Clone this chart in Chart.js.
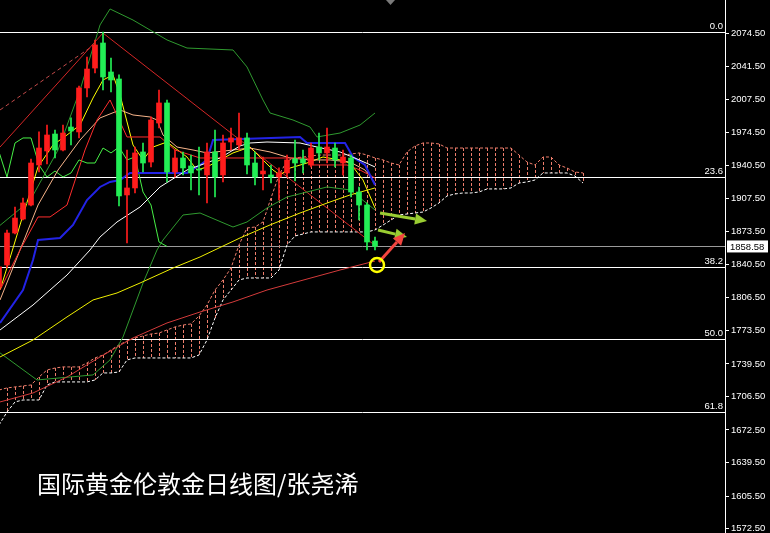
<!DOCTYPE html>
<html>
<head>
<meta charset="utf-8">
<script src="https://cdn.jsdelivr.net/npm/chart.js@4"></script>
<style>
  html, body { margin: 0; padding: 0; background: #000; }
  #wrap { width: 770px; height: 533px; position: relative; }
</style>
</head>
<body>
<div id="wrap"><canvas id="chart"></canvas></div>
<script>
/* ---------- data ---------- */

// Price axis labels (right side)
const priceTicks = [2074.5, 2041.5, 2007.5, 1974.5, 1940.5, 1907.5, 1873.5, 1840.5,
  1806.5, 1773.5, 1739.5, 1706.5, 1672.5, 1639.5, 1605.5, 1572.5];
const lastPrice = 1858.58;

// Daily candles, bar 0 is the half-hidden one on the left edge
const opens = [1817.5, 1839.8, 1872.2, 1886.4, 1900.6, 1941.2, 1955.4, 1972.6, 1956.4, 1979.7,
  1974.7, 2019.3, 2039.5, 2064.9, 2035.5, 2028.4, 1910.8, 1917.9, 1954.4, 1944.2,
  1983.8, 2004.1, 1934.1, 1948.3, 1940.2, 1937.0, 1931.1, 1954.4, 1931.1, 1964.5,
  1961.5, 1968.6, 1943.2, 1932.1, 1931.1, 1929.0, 1933.1, 1947.3, 1947.3, 1941.2,
  1959.4, 1953.4, 1958.4, 1943.2, 1948.3, 1913.8, 1900.6, 1864.1];
const highs = [1840.0, 1875.3, 1898.6, 1907.7, 1947.3, 1974.7, 1981.7, 1976.7, 1981.7, 1988.9,
  2021.3, 2050.7, 2067.9, 2076.0, 2049.7, 2032.5, 1956.4, 1959.4, 1963.5, 1989.9,
  2017.2, 2007.1, 1956.4, 1954.4, 1951.3, 1959.4, 1963.5, 1976.7, 1971.6, 1978.7,
  1993.9, 1973.6, 1954.4, 1949.3, 1941.2, 1938.2, 1951.3, 1966.5, 1956.4, 1963.5,
  1973.6, 1978.7, 1963.5, 1956.4, 1951.3, 1918.9, 1902.7, 1868.2];
const lows = [1814.0, 1836.7, 1871.2, 1885.4, 1899.6, 1934.1, 1942.2, 1948.3, 1955.4, 1961.5,
  1968.6, 2010.1, 2034.5, 2017.2, 2015.2, 1899.6, 1862.1, 1912.8, 1934.1, 1939.2,
  1978.7, 1924.0, 1929.0, 1931.1, 1915.9, 1910.8, 1902.7, 1908.7, 1923.9, 1956.4,
  1956.4, 1932.1, 1920.9, 1915.9, 1922.9, 1905.7, 1929.0, 1925.0, 1933.1, 1939.2,
  1946.3, 1943.2, 1939.2, 1931.1, 1908.7, 1885.4, 1855.0, 1855.0];
const closes = [1837.8, 1872.2, 1887.4, 1902.7, 1943.2, 1958.4, 1971.6, 1956.4, 1973.6, 1975.7,
  2019.3, 2038.5, 2062.9, 2030.4, 2027.4, 1909.8, 1917.9, 1953.4, 1943.2, 1986.8,
  2004.1, 1934.1, 1948.3, 1938.2, 1933.1, 1936.1, 1954.4, 1929.0, 1963.5, 1968.6,
  1968.6, 1941.2, 1929.0, 1935.1, 1929.0, 1933.1, 1946.3, 1943.2, 1943.2, 1958.4,
  1953.4, 1959.4, 1946.3, 1949.3, 1913.8, 1900.6, 1863.1, 1858.58];

// Ichimoku cloud, one value per bar (runs 26 bars past the last candle)
const spanA = [1713.0, 1715.1, 1716.1, 1717.1, 1718.1, 1726.2, 1733.3, 1735.3, 1736.4, 1736.4,
  1736.4, 1740.4, 1745.5, 1748.5, 1753.6, 1758.7, 1762.7, 1765.8, 1767.8, 1769.8,
  1770.8, 1773.9, 1776.9, 1778.9, 1780.0, 1788.1, 1799.2, 1814.4, 1824.6, 1836.7,
  1860.1, 1877.3, 1878.3, 1883.4, 1907.7, 1931.0, 1945.2, 1948.3, 1949.3, 1950.3,
  1951.3, 1951.3, 1951.3, 1951.3, 1952.3, 1953.4, 1951.3, 1948.3, 1946.3, 1943.2,
  1941.2, 1954.4, 1960.5, 1963.5, 1963.5, 1962.5, 1958.4, 1958.4, 1958.4, 1958.4,
  1958.4, 1958.4, 1958.4, 1958.4, 1958.4, 1951.3, 1944.2, 1941.2, 1949.3, 1949.3,
  1941.2, 1938.1, 1934.1, 1933.1];
const spanB = [1677.5, 1690.7, 1700.9, 1702.9, 1702.9, 1702.9, 1718.1, 1721.2, 1721.2, 1721.2,
  1721.2, 1721.2, 1723.2, 1730.3, 1730.3, 1731.3, 1743.5, 1745.5, 1745.5, 1745.5,
  1745.5, 1745.5, 1745.5, 1745.5, 1745.5, 1748.5, 1763.7, 1786.0, 1804.3, 1814.4,
  1824.6, 1826.6, 1826.6, 1826.6, 1826.6, 1834.7, 1860.1, 1869.2, 1871.2, 1873.3,
  1873.3, 1873.3, 1873.3, 1873.3, 1873.3, 1873.3, 1873.3, 1875.3, 1880.3, 1885.4,
  1890.5, 1891.5, 1892.5, 1893.5, 1897.6, 1902.7, 1909.8, 1911.8, 1912.8, 1912.8,
  1913.8, 1916.9, 1916.9, 1916.9, 1917.9, 1922.9, 1924.0, 1926.0, 1933.1, 1933.1,
  1933.1, 1933.1, 1930.0, 1922.9];
// Lagging span (bars 0..21)
const chikou = [1954.4, 1929.0, 1963.5, 1968.6, 1968.6, 1941.2, 1929.0, 1935.1, 1929.0, 1933.1,
  1946.3, 1943.2, 1943.2, 1958.4, 1953.4, 1959.4, 1946.3, 1949.3, 1913.8, 1900.6,
  1863.1, 1858.6];

// Indicator lines as [bar, price] samples
const maFast = [[0.13, 1814.4], [1.38, 1846.9], [2.63, 1880.4], [4.88, 1939.2], [6.75, 1961.5],
  [8.5, 1971.6], [10.13, 1981.8], [11.75, 2009.1], [13, 2027.4], [14.25, 2032.5], [15.13, 2012.2],
  [16.75, 1961.5], [18, 1946.3], [19.25, 1959.4], [21, 1964.5], [23.5, 1949.3], [24.75, 1936.1],
  [26, 1939.2], [27.63, 1946.3], [29.25, 1953.4], [31.38, 1959.4], [32.63, 1949.3], [34.25, 1936.1],
  [35.13, 1931.0], [36.38, 1938.1], [38.5, 1943.2], [40.5, 1949.3], [42.63, 1946.3], [43.88, 1943.2],
  [45.5, 1926.0], [47, 1897.6]];
const maTen = [[0.13, 1804.3], [2.63, 1855.0], [4.88, 1900.6], [7.38, 1936.1], [10.13, 1966.5],
  [12.63, 1988.9], [15.13, 1997.0], [16.75, 1991.9], [18.88, 1989.9], [19.75, 1986.8], [20.5, 1971.6],
  [22.25, 1959.4], [24.25, 1956.4], [26, 1953.4], [29.25, 1956.4], [31.38, 1958.4], [33.88, 1954.4],
  [36.38, 1948.3], [38.88, 1946.3], [41.38, 1946.3], [43.88, 1944.2], [45.75, 1936.1], [47, 1922.9]];
const maWhite = [[0.13, 1773.9], [4.25, 1799.2], [8.5, 1829.6], [11.38, 1855.0], [12.63, 1868.2],
  [14.75, 1883.4], [17.63, 1898.6], [20.13, 1918.9], [23.5, 1936.1], [27.63, 1948.3], [30.13, 1960.5],
  [31.38, 1963.5], [33.5, 1964.5], [37.63, 1963.5], [39.75, 1959.4], [42.63, 1954.4], [44.75, 1947.3],
  [47, 1939.2]];
const maSlowYellow = [[0.13, 1746.5], [4.25, 1763.7], [8.5, 1787.1], [11.75, 1804.3], [14.75, 1811.4],
  [17.63, 1821.5], [21.75, 1836.7], [25.13, 1847.9], [30.13, 1867.2], [33.88, 1880.4], [37.63, 1892.5],
  [41.38, 1903.7], [43.88, 1910.8], [47, 1917.9]];
const maSlowRed = [[0.13, 1700.9], [4.25, 1710.0], [8.5, 1726.2], [12.63, 1746.5], [16.75, 1765.8],
  [21, 1781.0], [25.13, 1792.1], [29.25, 1802.3], [33.5, 1814.4], [37.63, 1823.6], [42.63, 1834.7],
  [47, 1843.8]];
const bandUpper = [[0.13, 1880.0], [3.88, 1905.0], [7.38, 1956.4], [10.13, 2017.2], [12.63, 2083.2],
  [13.88, 2099.4], [16.75, 2088.2], [21, 2068.0], [23.5, 2059.8], [29.25, 2057.8], [31, 2040.6],
  [33, 2007.1], [33.88, 1993.9], [36.75, 1986.8], [38.88, 1979.7], [39.75, 1969.6], [42.63, 1973.6],
  [45.13, 1981.7], [47, 1993.9]];
const bandLower = [[0.13, 1750.6], [4.75, 1723.2], [11.75, 1728.3], [13.88, 1743.5], [15.5, 1766.8],
  [18, 1821.5], [19.75, 1855.0], [20.5, 1865.1], [23, 1890.5], [25.13, 1892.5], [29.25, 1878.3],
  [31, 1883.4], [33.5, 1897.6], [36, 1908.7], [41, 1918.9], [43.88, 1915.9], [47, 1895.6]];
const tenkan = [[0.13, 1781.0], [3, 1814.4], [4.25, 1844.9], [4.88, 1865.1], [7.63, 1867.2],
  [9.25, 1880.4], [11, 1905.7], [12.63, 1918.9], [13.88, 1924.0], [15.13, 1926.0], [16.38, 1933.1],
  [23.5, 1933.1], [25.13, 1941.2], [26, 1946.3], [26.75, 1966.5], [37.63, 1969.6], [38.5, 1963.5],
  [43.25, 1963.5], [44.25, 1949.3], [45.75, 1941.2], [47, 1920.9]];
const kijun = [[0.13, 1814.4], [2.63, 1855.0], [4.88, 1888.5], [6.38, 1888.5], [8.5, 1900.6],
  [10.75, 1956.4], [12.25, 1986.8], [13.88, 2007.1], [16, 1969.6], [20.13, 1969.6], [22, 1956.4],
  [25.13, 1948.3], [38.5, 1948.3], [38.88, 1941.2], [43.5, 1941.2], [45.13, 1936.1], [47, 1928.0]];

// Drawn objects
const trendSolid = [[0.13, 1959.4], [13, 2075.0], [47.25, 1858.0]];
const trendDashed = [[0.13, 1997.0], [12.25, 2064.9]];
const fibLabels = ['0.0', '23.6', '38.2', '50.0', '61.8'];
const fibPrices = [2076.0, 1928.9, 1837.9, 1764.3, 1690.7];
const greenArrows = [[[47.63, 1892.5], [53.5, 1884.4]], [[47.38, 1875.3], [51, 1868.2]]];
const redArrow = [[47.5, 1842.8], [50.75, 1872.2]];
const ringAt = [47.25, 1839.8];
const caption = '国际黄金伦敦金日线图/张尧浠';

/* ---------- colours ---------- */
const UP = '#ff1c1c';
const DOWN = '#22ee55';
const HATCH = '#f07e6c';

/* ---------- helpers ---------- */
const pts = (arr) => arr.map(([x, y]) => ({ x, y }));
const bars = opens.map((_, i) => i);
const candleColor = bars.map((i) => (closes[i] >= opens[i] ? UP : DOWN));

function line(data, color, extra = {}) {
  return Object.assign({
    type: 'line', data, borderColor: color, borderWidth: 1,
    pointRadius: 0, fill: false, tension: 0, order: 10,
  }, extra);
}

function arrow(ctx, x1, y1, x2, y2, color) {
  const a = Math.atan2(y2 - y1, x2 - x1);
  const head = 12, half = 5.5;
  const bx = x2 - head * Math.cos(a), by = y2 - head * Math.sin(a);
  ctx.strokeStyle = color; ctx.fillStyle = color; ctx.lineWidth = 3;
  ctx.beginPath(); ctx.moveTo(x1, y1); ctx.lineTo(bx, by); ctx.stroke();
  ctx.beginPath();
  ctx.moveTo(x2, y2);
  ctx.lineTo(bx - half * Math.sin(a), by + half * Math.cos(a));
  ctx.lineTo(bx + half * Math.sin(a), by - half * Math.cos(a));
  ctx.closePath(); ctx.fill();
}

/* ---------- plugins ---------- */

// Fibonacci lines, price line and the vertical cloud hatching (under the series)
const backdropPlugin = {
  id: 'backdrop',
  beforeDatasetsDraw(chart) {
    const { ctx, chartArea: ca, scales: { x, y } } = chart;
    ctx.save();
    ctx.beginPath(); ctx.rect(ca.left, ca.top, ca.width, ca.height); ctx.clip();

    ctx.lineWidth = 1;
    ctx.setLineDash([3, 2]);
    ctx.strokeStyle = HATCH;
    spanA.forEach((a, i) => {
      const px = Math.round(x.getPixelForValue(i)) + 0.5;
      ctx.beginPath();
      ctx.moveTo(px, y.getPixelForValue(a));
      ctx.lineTo(px, y.getPixelForValue(spanB[i]));
      ctx.stroke();
    });
    ctx.setLineDash([]);

    ctx.strokeStyle = '#ffffff';
    fibPrices.forEach((p) => {
      const py = Math.round(y.getPixelForValue(p)) + 0.5;
      ctx.beginPath(); ctx.moveTo(ca.left, py); ctx.lineTo(ca.right, py); ctx.stroke();
    });
    ctx.strokeStyle = '#9a9a9a';
    const lp = Math.round(y.getPixelForValue(lastPrice)) + 0.5;
    ctx.beginPath(); ctx.moveTo(ca.left, lp); ctx.lineTo(ca.right, lp); ctx.stroke();
    ctx.restore();
  },
};

// Arrows, ring, labels and caption (over the series)
const overlayPlugin = {
  id: 'overlay',
  afterDatasetsDraw(chart) {
    const { ctx, chartArea: ca, scales: { x, y } } = chart;
    const P = ([k, p]) => [x.getPixelForValue(k), y.getPixelForValue(p)];
    ctx.save();

    greenArrows.forEach(([a, b]) => arrow(ctx, ...P(a), ...P(b), '#9acd32'));
    arrow(ctx, ...P(redArrow[0]), ...P(redArrow[1]), '#f2453f');

    const [rx, ry] = P(ringAt);
    ctx.strokeStyle = '#ffff00'; ctx.lineWidth = 2.5;
    ctx.beginPath(); ctx.arc(rx, ry, 7, 0, Math.PI * 2); ctx.stroke();

    // fib level labels
    ctx.fillStyle = '#ffffff';
    ctx.font = '9.5px "Liberation Sans", sans-serif';
    ctx.textAlign = 'right'; ctx.textBaseline = 'bottom';
    fibPrices.forEach((p, i) => {
      ctx.fillText(fibLabels[i], ca.right - 2, y.getPixelForValue(p) - 1);
    });

    // last price box on the axis
    const ly = y.getPixelForValue(lastPrice);
    ctx.fillStyle = '#ffffff';
    ctx.fillRect(ca.right + 2, ly - 6, 41, 12);
    ctx.fillStyle = '#000000';
    ctx.textAlign = 'left'; ctx.textBaseline = 'middle';
    ctx.fillText(lastPrice.toFixed(2), ca.right + 5, ly + 0.5);

    // chart shift marker
    ctx.fillStyle = '#7a7a7a';
    ctx.beginPath(); ctx.moveTo(386, 0); ctx.lineTo(395, 0); ctx.lineTo(390.5, 5); ctx.closePath(); ctx.fill();

    // caption
    ctx.fillStyle = '#ffffff';
    ctx.font = '24px "Noto Sans CJK SC", sans-serif';
    ctx.textAlign = 'left'; ctx.textBaseline = 'middle';
    ctx.fillText(caption, 37, 484);
    ctx.restore();
  },
};

/* ---------- chart ---------- */

const datasets = [
  // candles: wick first, then body on top
  {
    type: 'bar', data: bars.map((i) => ({ x: i, y: [lows[i], highs[i]] })),
    backgroundColor: candleColor, barThickness: 1, grouped: false, order: 1,
  },
  {
    type: 'bar', data: bars.map((i) => ({ x: i, y: [opens[i], closes[i]] })),
    backgroundColor: candleColor, barThickness: 5, minBarLength: 1, grouped: false, order: 0,
  },
  line(pts(spanA.map((v, i) => [i, v])), HATCH, { borderDash: [3, 2], order: 20 }),
  line(pts(spanB.map((v, i) => [i, v])), '#ffffff', { borderDash: [3, 2], order: 20 }),
  line(pts(maSlowRed), '#d43b3b'),
  line(pts(maSlowYellow), '#f0f000'),
  line(pts(bandUpper), '#2f9a2f'),
  line(pts(bandLower), '#2f9a2f'),
  line(pts(maWhite), '#ffffff'),
  line(pts(tenkan), '#2323e6', { borderWidth: 2 }),
  line(pts(kijun), '#ff2d2d'),
  line(pts(maTen), '#f7b48a'),
  line(pts(chikou.map((v, i) => [i, v])), '#46f046'),
  line(pts(maFast), '#ffff00'),
  line(pts(trendSolid), '#d42626'),
  line(pts(trendDashed), '#c24a4a', { borderDash: [4, 3] }),
];

new Chart(document.getElementById('chart'), {
  data: { datasets },
  options: {
    responsive: true,
    maintainAspectRatio: false,
    animation: false,
    events: [],
    layout: { padding: 0 },
    plugins: { legend: { display: false }, tooltip: { enabled: false } },
    scales: {
      x: { type: 'linear', display: false, offset: false, min: 0.125, max: 90.75 },
      y: {
        type: 'linear',
        position: 'right',
        min: 1568.0,
        max: 2108.5,
        border: { display: true, color: '#ffffff', width: 1 },
        grid: { display: true, drawOnChartArea: false, drawTicks: true, tickLength: 4, color: '#ffffff' },
        ticks: {
          color: '#ffffff',
          padding: 2,
          font: { family: '"Liberation Sans", sans-serif', size: 9.5 },
          callback: (v) => Number(v).toFixed(2),
        },
        afterBuildTicks: (s) => { s.ticks = priceTicks.map((v) => ({ value: v })); },
        afterFit: (s) => { s.width = 45; s.paddingTop = 0; s.paddingBottom = 0; },
      },
    },
  },
  plugins: [backdropPlugin, overlayPlugin],
});
</script>
</body>
</html>
